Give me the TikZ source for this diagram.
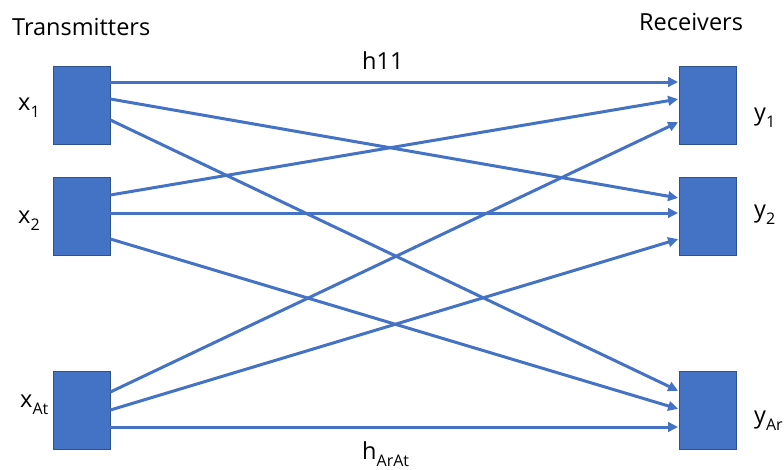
\documentclass[tikz,border=0pt]{standalone}
\usepackage{fontspec}
\setmainfont{Open Sans}
\usetikzlibrary{arrows.meta}
\definecolor{boxblue}{HTML}{4472C4}
\definecolor{boxedge}{HTML}{2F528F}
\newcommand{\sbx}[1]{\raisebox{-0.32em}{\fontsize{16}{16}\selectfont #1}}
\begin{document}
\begin{tikzpicture}[x=1pt,y=-1pt,
  antenna/.style={draw=boxedge,line width=0.8pt,fill=boxblue,minimum width=57pt,minimum height=78pt,inner sep=0pt},
  link/.style={draw=boxblue,line width=3pt,-{Triangle[length=10pt,width=9.5pt]},shorten >=0.5pt},
  lbl/.style={font=\fontsize{23.5}{25}\selectfont,inner sep=0pt,anchor=base west}]
\useasboundingbox (0,0) rectangle (784,469);
\node[antenna] (t1) at (81.5,105) {};
\node[antenna] (t2) at (81.5,216.5) {};
\node[antenna] (t3) at (81.5,410) {};
\node[antenna] (r1) at (707.5,105) {};
\node[antenna] (r2) at (707.5,216) {};
\node[antenna] (r3) at (707.5,410) {};
% links
\draw[link] ([yshift=23pt]t1.east) -- ([yshift=23pt]r1.west);
\draw[link] ([yshift=6pt]t1.east) -- ([yshift=18pt]r2.west);
\draw[link] ([yshift=-15pt]t1.east) -- ([yshift=19pt]r3.west);
\draw[link] ([yshift=21.5pt]t2.east) -- ([yshift=6pt]r1.west);
\draw[link] ([yshift=3.5pt]t2.east) -- ([yshift=3pt]r2.west);
\draw[link] ([yshift=-22.5pt]t2.east) -- ([yshift=1pt]r3.west);
\draw[link] ([yshift=18pt]t3.east) -- ([yshift=-17pt]r1.west);
\draw[link] ([yshift=0pt]t3.east) -- ([yshift=-23pt]r2.west);
\draw[link] ([yshift=-17pt]t3.east) -- ([yshift=-17pt]r3.west);
% labels
\node[lbl] (tt) at (12,35) {Transmitters};
\node[lbl] (rt) at (639,30) {Receivers};
\node[lbl] (h11) at (362,69) {h11};
\node[lbl] (hAA) at (362,459) {h\sbx{ArAt}};
\node[lbl] (x1) at (18,110) {x\sbx{1}};
\node[lbl] (x2) at (18,223) {x\sbx{2}};
\node[lbl] (x3) at (20,407) {x\sbx{At}};
\node[lbl] (y1) at (754,120) {y\sbx{1}};
\node[lbl] (y2) at (754,217) {y\sbx{2}};
\node[lbl] (y3) at (754,423) {y\sbx{Ar}};
\end{tikzpicture}
\end{document}
